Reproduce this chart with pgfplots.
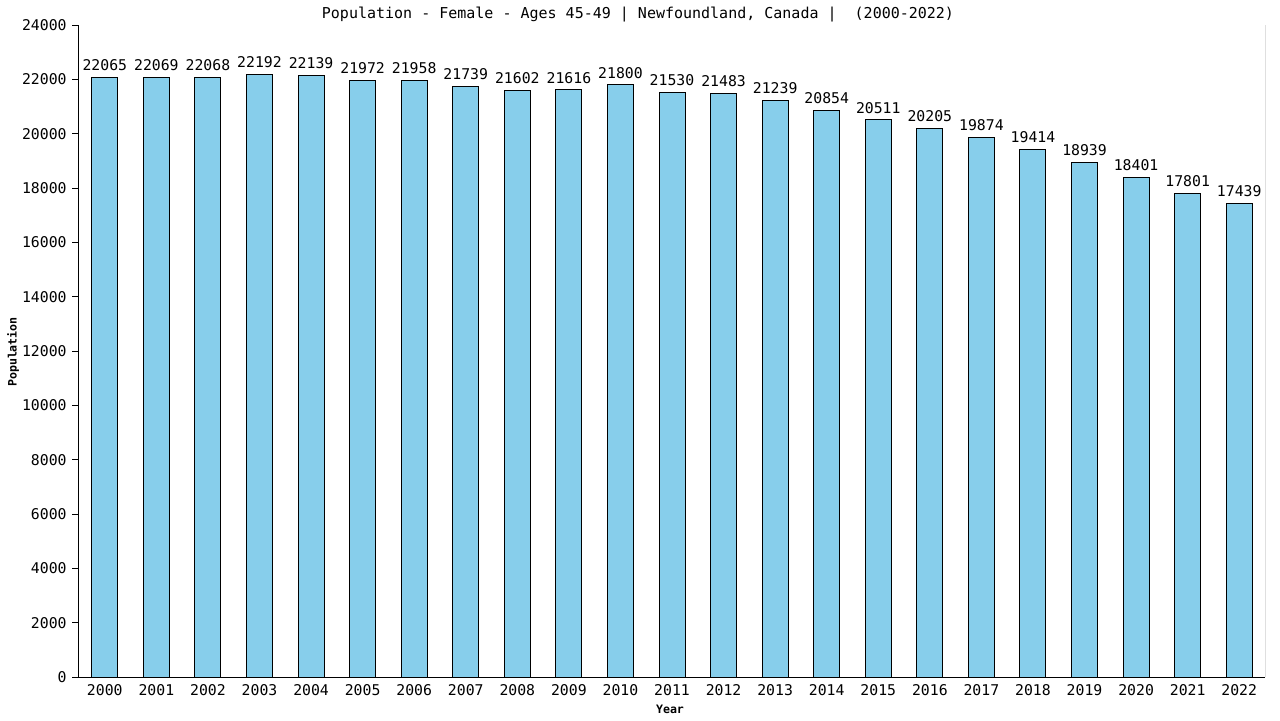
\documentclass[border=0pt]{standalone}
\usepackage{fontspec}
\setmainfont{DejaVu Sans Mono}
\usepackage{pgfplots}
\pgfplotsset{compat=1.18}
\definecolor{barblue}{RGB}{135,206,235}

\begin{document}
\begin{tikzpicture}
\path[use as bounding box] (0,0) rectangle (640pt,360pt);
\begin{axis}[
    at={(39pt,21.5pt)}, anchor=south west,
    scale only axis,
    width=593.5pt, height=326pt,
    ybar, bar width=13pt,
    xmin=-0.52, xmax=22.5,
    ymin=0, ymax=24000,
    axis x line*=bottom, axis y line*=left,
    axis line style={line width=0.5pt, -},
    xtick=data,
    xticklabels={2000,2001,2002,2003,2004,2005,2006,2007,2008,2009,2010,2011,
                 2012,2013,2014,2015,2016,2017,2018,2019,2020,2021,2022},
    ytick={0,2000,...,24000},
    scaled y ticks=false,
    major x tick style={draw=none},
    ytick align=outside, major tick length=3pt,
    major y tick style={line width=0.5pt, black},
    /pgf/number format/assume math mode=true,
    /pgf/number format/1000 sep={},
    yticklabel={\pgfmathprintnumber[fixed,precision=0,1000 sep={},assume math mode=true]{\tick}},
    tick label style={font=\fontsize{7.4}{8}\selectfont, inner sep=0pt},
    xticklabel shift=0.5pt,
    yticklabel shift=2.5pt,
    nodes near coords={\pgfmathprintnumber[fixed,precision=0,1000 sep={}]{\pgfplotspointmeta}},
    nodes near coords style={font=\fontsize{7.4}{8}\selectfont, inner sep=0pt, anchor=south, yshift=3pt},
]
\addplot[fill=barblue, draw=black, line width=0.5pt] coordinates {
  (0,22065) (1,22069) (2,22068) (3,22192) (4,22139) (5,21972) (6,21958)
  (7,21739) (8,21602) (9,21616) (10,21800) (11,21530) (12,21483) (13,21239)
  (14,20854) (15,20511) (16,20205) (17,19874) (18,19414) (19,18939)
  (20,18401) (21,17801) (22,17439)
};
\draw[line width=0.5pt] (rel axis cs:1,0) -- (rel axis cs:1,1);
\end{axis}
\node[font=\fontsize{7.5}{8}\selectfont, inner sep=0pt] at (319pt,352.5pt)
  {Population - Female - Ages 45-49 | Newfoundland, Canada |~ (2000-2022)};
\node[font=\bfseries\fontsize{5.8}{7}\selectfont, inner sep=0pt] at (335pt,5.5pt) {Year};
\node[font=\bfseries\fontsize{5.8}{7}\selectfont, inner sep=0pt, rotate=90] at (6.5pt,184pt) {Population};
\end{tikzpicture}
\end{document}
